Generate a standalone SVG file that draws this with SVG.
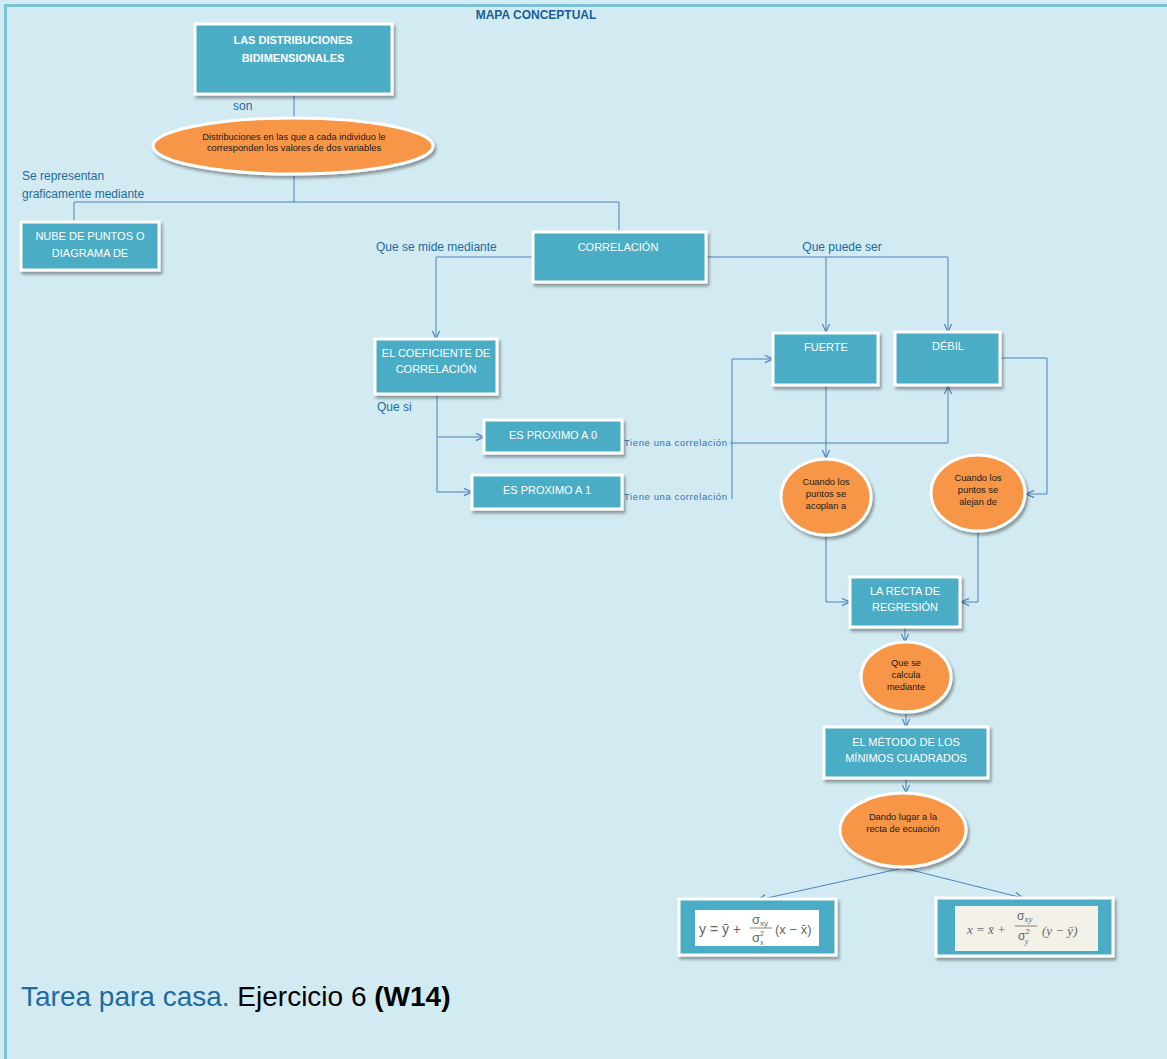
<svg xmlns="http://www.w3.org/2000/svg" width="1167" height="1059" viewBox="0 0 1167 1059">
<defs>
<filter id="sh" x="-20%" y="-20%" width="140%" height="150%">
<feDropShadow dx="2" dy="3" stdDeviation="1.5" flood-color="#000" flood-opacity="0.35"/>
</filter>
<marker id="ar" viewBox="0 0 10 10" refX="10" refY="5" markerWidth="9" markerHeight="9" markerUnits="userSpaceOnUse" orient="auto">
<path d="M1,1 L10,5 L1,9" fill="none" stroke="#4F81BD" stroke-width="1.3"/>
</marker>
<style>
.box{fill:#4BACC6;stroke:#fff;stroke-width:3;filter:url(#sh)}
.ell{fill:#F79646;stroke:#fff;stroke-width:3;filter:url(#sh)}
.bt{font-family:"Liberation Sans",Arial,sans-serif;font-size:11px;fill:#fff;text-anchor:middle}
.et{font-family:"Liberation Sans",Arial,sans-serif;font-size:9.3px;fill:#1a1a1a;text-anchor:middle}
.lb{font-family:"Liberation Sans",Arial,sans-serif;font-size:12px;fill:#1F6A9E}
.tc{font-family:"Liberation Sans",Arial,sans-serif;font-size:9.5px;fill:#2E74B5;letter-spacing:0.6px}
.cn{fill:none;stroke:#4F81BD;stroke-width:1}
.fm{font-family:"Liberation Sans",Arial,sans-serif;fill:#666}
.fs{font-family:"Liberation Serif","Times New Roman",serif;fill:#666;font-style:italic}
</style>
</defs>
<rect x="0" y="0" width="1167" height="1059" fill="#D2EAF1"/>
<rect x="4" y="4" width="1163" height="3" fill="#7CC2D6"/>
<rect x="4" y="4" width="3" height="1055" fill="#7CC2D6"/>
<text x="536" y="19" text-anchor="middle" font-family="'Liberation Sans',Arial,sans-serif" font-size="12" font-weight="bold" fill="#17609A">MAPA CONCEPTUAL</text>

<g id="connectors">
<path class="cn" d="M294,94 V119"/>
<path class="cn" d="M294,174 V202 M74,202 H619 M74,202 V222 M619,202 V232"/>
<path class="cn" d="M533,257 H436 V339" marker-end="url(#ar)"/>
<path class="cn" d="M706,257 H948 V332" marker-end="url(#ar)"/>
<path class="cn" d="M826,257 V332" marker-end="url(#ar)"/>
<path class="cn" d="M437,394 V492 H472" marker-end="url(#ar)"/>
<path class="cn" d="M437,437 H484" marker-end="url(#ar)"/>
<path class="cn" d="M730,443 H948 V386" marker-end="url(#ar)"/>
<path class="cn" d="M732,499 V359 H773" marker-end="url(#ar)"/>
<path class="cn" d="M826,385 V458" marker-end="url(#ar)"/>
<path class="cn" d="M1000,358 H1047 V494 H1026" marker-end="url(#ar)"/>
<path class="cn" d="M826,535 V602 H850" marker-end="url(#ar)"/>
<path class="cn" d="M978,531 V602 H961" marker-end="url(#ar)"/>
<path class="cn" d="M905,627 V642" marker-end="url(#ar)"/>
<path class="cn" d="M906,712 V727" marker-end="url(#ar)"/>
<path class="cn" d="M906,778 V793" marker-end="url(#ar)"/>
<path class="cn" d="M903,868 L758,900" marker-end="url(#ar)"/>
<path class="cn" d="M903,868 L1023,898" marker-end="url(#ar)"/>
</g>

<g id="labels">
<text class="lb" x="233" y="110">son</text>
<text class="lb" x="22" y="180">Se representan</text>
<text class="lb" x="22" y="198">graficamente mediante</text>
<text class="lb" x="376" y="251">Que se mide mediante</text>
<text class="lb" x="842" y="251" text-anchor="middle">Que puede ser</text>
<text class="lb" x="377" y="411">Que si</text>
<text class="tc" x="624" y="446">Tiene una correlación</text>
<text class="tc" x="624" y="500">Tiene una correlación</text>
</g>

<g id="n-distribuciones">
<rect class="box" x="195" y="24" width="197" height="70"/>
<text class="bt" x="293" y="44" font-weight="bold" font-size="11.5">LAS DISTRIBUCIONES</text>
<text class="bt" x="293" y="62" font-weight="bold" font-size="11.5">BIDIMENSIONALES</text>
</g>
<g id="n-definicion">
<ellipse class="ell" cx="293" cy="146" rx="140" ry="28"/>
<text class="et" x="294" y="140" font-size="8.3">Distribuciones en las que a cada individuo le</text>
<text class="et" x="294" y="151" font-size="8.3">corresponden los valores de dos variables</text>
</g>
<g id="n-nube">
<rect class="box" x="21" y="222" width="138" height="48"/>
<text class="bt" x="90" y="240">NUBE DE PUNTOS O</text>
<text class="bt" x="90" y="257">DIAGRAMA DE</text>
</g>
<g id="n-correlacion">
<rect class="box" x="533" y="232" width="173" height="50"/>
<text class="bt" x="618" y="251">CORRELACIÓN</text>
</g>
<g id="n-coeficiente">
<rect class="box" x="375" y="339" width="122" height="55"/>
<text class="bt" x="436" y="357" font-size="10.5">EL COEFICIENTE DE</text>
<text class="bt" x="436" y="373">CORRELACIÓN</text>
</g>
<g id="n-proximo0">
<rect class="box" x="484" y="420" width="138" height="33"/>
<text class="bt" x="553" y="439">ES PROXIMO A 0</text>
</g>
<g id="n-proximo1">
<rect class="box" x="472" y="475" width="150" height="34"/>
<text class="bt" x="547" y="494">ES PROXIMO A 1</text>
</g>
<g id="n-fuerte">
<rect class="box" x="773" y="333" width="105" height="52"/>
<text class="bt" x="826" y="351">FUERTE</text>
</g>
<g id="n-debil">
<rect class="box" x="895" y="332" width="105" height="53"/>
<text class="bt" x="948" y="350">DÉBIL</text>
</g>
<g id="n-acoplan">
<ellipse class="ell" cx="826" cy="497" rx="45" ry="38"/>
<text class="et" x="826" y="485">Cuando los</text>
<text class="et" x="826" y="497">puntos se</text>
<text class="et" x="826" y="509">acoplan a</text>
</g>
<g id="n-alejan">
<ellipse class="ell" cx="978" cy="493" rx="47" ry="38"/>
<text class="et" x="978" y="481">Cuando los</text>
<text class="et" x="978" y="493">puntos se</text>
<text class="et" x="978" y="505">alejan de</text>
</g>
<g id="n-recta">
<rect class="box" x="850" y="577" width="110" height="50"/>
<text class="bt" x="905" y="595">LA RECTA DE</text>
<text class="bt" x="905" y="611">REGRESIÓN</text>
</g>
<g id="n-calcula">
<ellipse class="ell" cx="906" cy="677" rx="45" ry="35"/>
<text class="et" x="906" y="666">Que se</text>
<text class="et" x="906" y="678">calcula</text>
<text class="et" x="906" y="690">mediante</text>
</g>
<g id="n-metodo">
<rect class="box" x="824" y="727" width="164" height="51"/>
<text class="bt" x="906" y="746">EL MÉTODO DE LOS</text>
<text class="bt" x="906" y="762">MÍNIMOS CUADRADOS</text>
</g>
<g id="n-dando">
<ellipse class="ell" cx="903" cy="830" rx="63" ry="37"/>
<text class="et" x="903" y="820">Dando lugar a la</text>
<text class="et" x="903" y="832">recta de ecuación</text>
</g>
<g id="n-formula-y">
<rect class="box" x="679" y="899" width="157" height="56"/>
<rect x="695" y="910" width="124" height="36" fill="#fff"/>
<text class="fm" x="699" y="934" font-size="14">y = ȳ +</text>
<text class="fm" x="752" y="924" font-size="13">σ<tspan font-size="8" dy="2">xy</tspan></text>
<line x1="750" y1="928" x2="772" y2="928" stroke="#666" stroke-width="0.8"/>
<text class="fm" x="752" y="942" font-size="13">σ<tspan font-size="7" dy="-6">2</tspan><tspan font-size="7" dx="-4" dy="9">x</tspan></text>
<text class="fm" x="775" y="934" font-size="13">(x − x̄)</text>
</g>
<g id="n-formula-x">
<rect class="box" x="936" y="898" width="177" height="58"/>
<rect x="955" y="906" width="143" height="45" fill="#F4F1E8"/>
<text class="fs" x="967" y="934" font-size="13">x = x̄ +</text>
<text class="fm" x="1017" y="920" font-size="12">σ<tspan class="fs" font-size="9" dy="2">xy</tspan></text>
<line x1="1015" y1="926" x2="1037" y2="926" stroke="#666" stroke-width="0.8"/>
<text class="fm" x="1018" y="940" font-size="12">σ<tspan font-size="8" dy="-6">2</tspan><tspan class="fs" font-size="8" dx="-5" dy="10">y</tspan></text>
<text class="fs" x="1042" y="935" font-size="13">(y − ȳ)</text>
</g>

<text x="21" y="1006" font-family="'Liberation Sans',Arial,sans-serif" font-size="28"><tspan fill="#1F6A9E">Tarea para casa.</tspan><tspan fill="#000"> Ejercicio 6 </tspan><tspan fill="#000" font-weight="bold">(W14)</tspan></text>
</svg>
